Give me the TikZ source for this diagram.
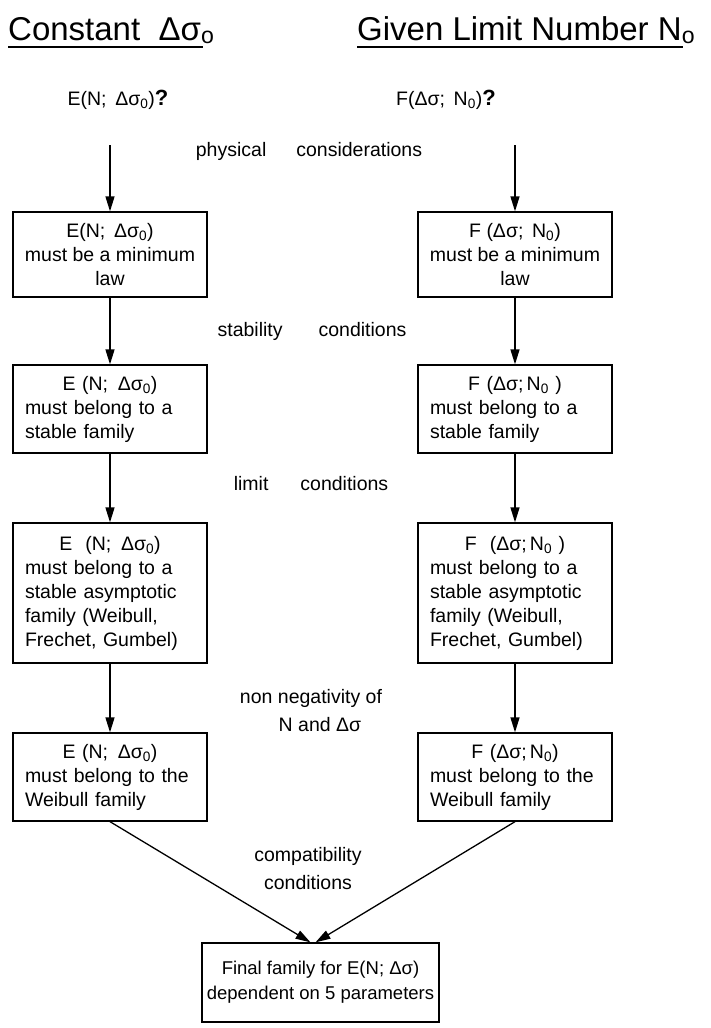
\documentclass[tikz,border=0pt]{standalone}
\usepackage{fontspec}
\setmainfont{Liberation Sans}
\usetikzlibrary{arrows.meta}
\tikzset{
  plainbox/.style={draw, line width=1.3pt, minimum width=194pt, align=center,
    inner xsep=4pt, font=\fontsize{19.5}{24}\selectfont},
  stepbox/.style={plainbox, text width=170pt, inner xsep=12pt, align=left},
  flow/.style={line width=1.3pt, -{Triangle[length=15pt,width=9pt]}},
  cond/.style={font=\fontsize{19.5}{28}\selectfont, align=center},
  ttl/.style={font=\fontsize{33}{36}\selectfont, anchor=base west, inner sep=0pt},
}
\newcommand{\boxhead}[1]{\makebox[\linewidth]{#1}}
\begin{document}
\begin{tikzpicture}[x=1pt,y=-1pt]
		\useasboundingbox (0,0) rectangle (711,1028);
		% Ueberschriften
		\node[ttl] (tL) at (8,40) {Constant\ \ Δσ\textsubscript{o}};
		\node[ttl] (tR) at (357,40) {Given Limit Number N\textsubscript{o}};
		\draw[line width=2.4pt] ([yshift=-7pt]tL.base west) -- ([yshift=-7pt,xshift=-12pt]tL.base east);
		\draw[line width=2.4pt] ([yshift=-7pt]tR.base west) -- ([yshift=-7pt,xshift=-12pt]tR.base east);
		% Fragen
		\node[cond] (qL) at (118,100) {E(N;\, Δσ\textsubscript{0}){\fontsize{22}{24}\selectfont\bfseries ?}};
		\node[cond] (qR) at (446,100) {F(Δσ;\, N\textsubscript{0}){\fontsize{22}{24}\selectfont\bfseries ?}};
		\coordinate (sL) at (110,145);
		\coordinate (sR) at (515,145);
		%%%% linke Spalte
		\node[plainbox, minimum height=85pt] (eL1) at (110,254.5) {E(N;\, Δσ\textsubscript{0})\\must be a minimum\\law};
		\node[stepbox, minimum height=88pt] (eL2) at (110,409) {\boxhead{E (N;\, Δσ\textsubscript{0})}\\must belong to a\\stable family};
		\node[stepbox, minimum height=140pt] (eL3) at (110,593) {\boxhead{E\ \ (N;\, Δσ\textsubscript{0})}\\must belong to a\\stable asymptotic\\family (Weibull,\\Frechet, Gumbel)};
		\node[stepbox, minimum height=88pt] (eL4) at (110,777) {\boxhead{E (N;\, Δσ\textsubscript{0})}\\must belong to the\\Weibull family};
		%%%% rechte Spalte
		\node[plainbox, minimum height=85pt] (fR1) at (515,254.5) {F (Δσ;\, N\textsubscript{0})\\must\ be a minimum\\law};
		\node[stepbox, minimum height=88pt] (fR2) at (515,409) {\boxhead{F (Δσ;\,N\textsubscript{0}\ )}\\must belong to a\\stable family};
		\node[stepbox, minimum height=140pt] (fR3) at (515,593) {\boxhead{F\ \ (Δσ;\,N\textsubscript{0}\ )}\\must belong to a\\stable asymptotic\\family (Weibull,\\Frechet, Gumbel)};
		\node[stepbox, minimum height=88pt] (fR4) at (515,777) {\boxhead{F (Δσ;\,N\textsubscript{0})}\\must belong to the\\Weibull family};
		% Ergebnis
		\node[plainbox, minimum width=237pt, minimum height=79pt, font=\fontsize{18.5}{25}\selectfont] (fin) at (320.5,982.5) {Final family for E(N; Δσ)\\dependent on 5 parameters};
		% Bedingungen
		\node[cond] (c1) at (309,151) {physical\hspace{30pt}considerations};
		\node[cond] (c2) at (312,331) {stability\hspace{36pt}conditions};
		\node[cond] (c3) at (311,484) {limit\hspace{32pt}conditions};
		\node[cond] (c4) at (311,711) {non negativity of\\\hspace{18pt}N and Δσ};
		\node[cond] (c5) at (308,869) {compatibility\\conditions};
		% Pfeile
		\draw[flow] (sL) -- (eL1);
		\draw[flow] (sR) -- (fR1);
		\draw[flow] (eL1) -- (eL2);
		\draw[flow] (fR1) -- (fR2);
		\draw[flow] (eL2) -- (eL3);
		\draw[flow] (fR2) -- (fR3);
		\draw[flow] (eL3) -- (eL4);
		\draw[flow] (fR3) -- (fR4);
		\draw[flow] (eL4.south) -- ([xshift=-10pt]fin.north);
		\draw[flow] (fR4.south) -- ([xshift=-5pt]fin.north);
\end{tikzpicture}
\end{document}
